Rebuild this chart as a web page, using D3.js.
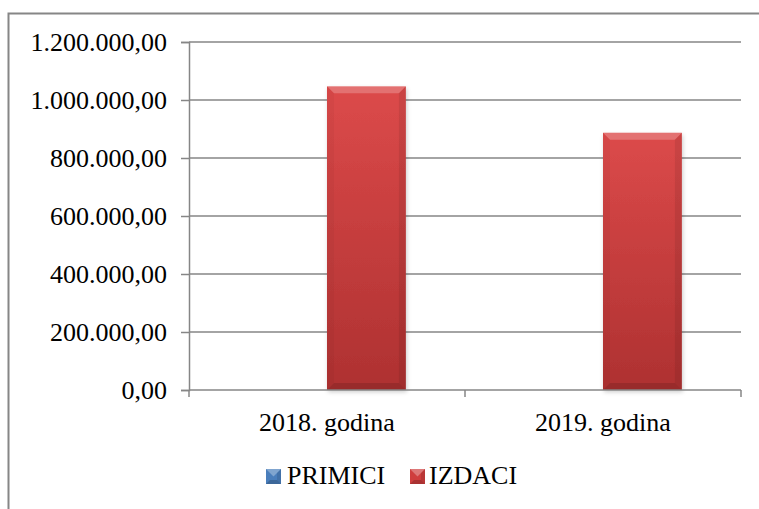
<!DOCTYPE html>
<html><head><meta charset="utf-8">
<script src="https://cdn.jsdelivr.net/npm/d3@7"></script>
<style>
html,body{margin:0;padding:0;background:#fff;}
svg{display:block;}
svg text{font-family:"Liberation Serif","Times New Roman",serif !important;fill:#000;}
</style></head>
<body>
<svg id="chart" width="759" height="509"></svg>
<script>
const categories = ["2018. godina", "2019. godina"];
const seriesNames = ["PRIMICI", "IZDACI"];
const primici = [0, 0];
const izdaci = [1047000, 887000];
const yTicks = [0, 200000, 400000, 600000, 800000, 1000000, 1200000];

const seriesValues = [primici, izdaci];
const colors = {
  PRIMICI: {top: "#6f9bd4", mid: "#4a7ebb", bot: "#375f8f"},
  IZDACI: {top: "#dc4a4a", mid: "#cf3e3e", bot: "#ae3131"}
};

const svg = d3.select("#chart");
const W = 759, H = 509;
const margin = {left: 189, right: 759 - 741, top: 42, bottom: 509 - 390};

const locale = d3.formatLocale({decimal: ",", thousands: ".", grouping: [3], currency: ["", ""]});
const fmt = locale.format(",.2f");

// outer border
svg.append("rect").attr("x", 8.5).attr("y", 13.5).attr("width", 770).attr("height", 520)
  .attr("fill", "none").attr("stroke", "#868686").attr("stroke-width", 2);

const defs = svg.append("defs");
seriesNames.forEach(s => {
  const g = defs.append("linearGradient").attr("id", "grad-" + s).attr("x1", 0).attr("y1", 0).attr("x2", 0).attr("y2", 1);
  g.append("stop").attr("offset", "0%").attr("stop-color", colors[s].top);
  g.append("stop").attr("offset", "100%").attr("stop-color", colors[s].bot);
});
const f = defs.append("filter").attr("id", "shadow").attr("x", "-20%").attr("y", "-20%").attr("width", "140%").attr("height", "140%");
f.append("feDropShadow").attr("dx", 1).attr("dy", 2).attr("stdDeviation", 2).attr("flood-color", "#000").attr("flood-opacity", 0.2);

const x = d3.scaleBand().domain(categories).range([margin.left, W - margin.right]).padding(0);
const xs = d3.scaleBand().domain(seriesNames).range([0, x.bandwidth()]).paddingInner(0).paddingOuter(0.75);
const y = d3.scaleLinear().domain([0, 1200000]).range([H - margin.bottom, margin.top]);

// gridlines
svg.append("g").selectAll("line").data(yTicks.filter(d => d > 0)).join("line")
  .attr("x1", margin.left).attr("x2", W - margin.right)
  .attr("y1", d => y(d)).attr("y2", d => y(d))
  .attr("stroke", "#868686").attr("stroke-width", 1.5);

// y axis
const yAxis = svg.append("g").attr("transform", `translate(${margin.left},0)`)
  .call(d3.axisLeft(y).tickValues(yTicks).tickSize(8).tickPadding(14).tickFormat(fmt))
  .attr("font-family", null).attr("font-size", null);
yAxis.select(".domain").attr("stroke", "#868686").attr("stroke-width", 1.5);
yAxis.selectAll(".tick line").attr("stroke", "#868686").attr("stroke-width", 1.5);
yAxis.selectAll(".tick text").style("font-size", "26px").attr("fill", "#000");

// bars
const bevel = 7;
function drawBevelBar(g, bx, by, bw, bh, s) {
  if (bh <= 0) return;
  const b = Math.min(bevel, bw / 2, bh / 2);
  const grp = g.append("g");
  grp.append("rect").attr("x", bx).attr("y", by).attr("width", bw).attr("height", bh)
    .attr("fill", "url(#grad-" + s + ")").attr("filter", "url(#shadow)");
  const poly = (pts, fill) => grp.append("polygon").attr("points", pts.map(p => p.join(",")).join(" ")).attr("fill", fill);
  poly([[bx, by], [bx + bw, by], [bx + bw - b, by + b], [bx + b, by + b]], "rgba(255,255,255,0.22)");
  poly([[bx, by], [bx + b, by + b], [bx + b, by + bh - b], [bx, by + bh]], "rgba(0,0,0,0.03)");
  poly([[bx + bw, by], [bx + bw - b, by + b], [bx + bw - b, by + bh - b], [bx + bw, by + bh]], "rgba(0,0,0,0.08)");
  poly([[bx, by + bh], [bx + b, by + bh - b], [bx + bw - b, by + bh - b], [bx + bw, by + bh]], "rgba(0,0,0,0.12)");
}
const barsG = svg.append("g");
categories.forEach((c, i) => {
  seriesNames.forEach((s, j) => {
    const v = seriesValues[j][i];
    drawBevelBar(barsG, x(c) + xs(s), y(v), xs.bandwidth(), y(0) - y(v), s);
  });
});

// x axis
svg.append("line").attr("x1", margin.left).attr("x2", W - margin.right).attr("y1", y(0)).attr("y2", y(0))
  .attr("stroke", "#868686").attr("stroke-width", 1.5);
const bounds = [x.range()[0], ...categories.map(c => x(c) + x.bandwidth())];
svg.append("g").selectAll("line").data(bounds).join("line")
  .attr("x1", d => d).attr("x2", d => d).attr("y1", y(0)).attr("y2", y(0) + 7)
  .attr("stroke", "#868686").attr("stroke-width", 1.5);
svg.append("g").selectAll("text").data(categories).join("text")
  .attr("x", d => x(d) + x.bandwidth() / 2).attr("y", 431)
  .attr("text-anchor", "middle").style("font-size", "26px").text(d => d);

// legend
const legendPos = [{mx: 266, tx: 287}, {mx: 410, tx: 429}];
const lg = svg.append("g");
seriesNames.forEach((s, j) => {
  const mx = legendPos[j].mx, my = 469, ms = 15;
  const b = 4;
  lg.append("rect").attr("x", mx).attr("y", my).attr("width", ms).attr("height", ms).attr("fill", colors[s].mid);
  const poly = (pts, fill) => lg.append("polygon").attr("points", pts.map(p => p.join(",")).join(" ")).attr("fill", fill);
  poly([[mx, my], [mx + ms, my], [mx + ms / 2, my + ms / 2]], "rgba(255,255,255,0.3)");
  poly([[mx, my + ms], [mx + b, my + ms - b], [mx + ms - b, my + ms - b], [mx + ms, my + ms]], "rgba(0,0,0,0.18)");
  poly([[mx + ms, my], [mx + ms - b, my + b], [mx + ms - b, my + ms - b], [mx + ms, my + ms]], "rgba(0,0,0,0.1)");
  lg.append("text").attr("x", legendPos[j].tx).attr("y", 484).style("font-size", "26px").text(s);
});
</script>
</body></html>
